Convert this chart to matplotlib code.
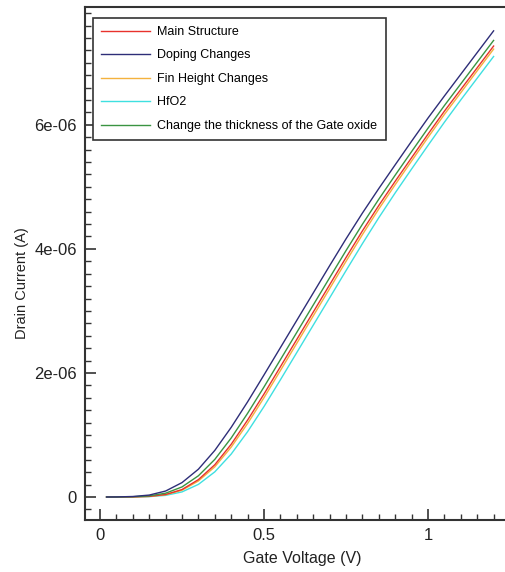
import matplotlib
matplotlib.use("Agg")
import matplotlib.pyplot as plt
from matplotlib.ticker import MultipleLocator

plt.rcParams['font.family'] = ['Liberation Sans', 'DejaVu Sans']

gate_voltage = [0.02, 0.05, 0.10, 0.15, 0.20, 0.25, 0.30, 0.35, 0.40, 0.45, 0.50,
                0.55, 0.60, 0.65, 0.70, 0.75, 0.80, 0.85, 0.90, 0.95, 1.00,
                1.05, 1.10, 1.15, 1.20]

main_structure = [0, 0, 0.002, 0.010, 0.040, 0.120, 0.280, 0.520, 0.850, 1.240, 1.660,
                  2.100, 2.540, 2.980, 3.420, 3.860, 4.290, 4.700, 5.090, 5.470, 5.850,
                  6.220, 6.570, 6.920, 7.270]
doping_changes = [0, 0.001, 0.008, 0.031, 0.096, 0.232, 0.448, 0.751, 1.123, 1.534, 1.968,
                  2.408, 2.848, 3.288, 3.728, 4.161, 4.577, 4.973, 5.356, 5.736, 6.109,
                  6.465, 6.815, 7.165, 7.515]
fin_height_changes = [0, 0, 0.0017, 0.009, 0.036, 0.109, 0.258, 0.486, 0.804, 1.185, 1.601,
                      2.038, 2.478, 2.918, 3.358, 3.798, 4.230, 4.643, 5.035, 5.417, 5.797,
                      6.168, 6.518, 6.871, 7.221]
hfo2 = [0, 0, 0.001, 0.006, 0.026, 0.082, 0.203, 0.405, 0.692, 1.053, 1.458,
        1.889, 2.329, 2.769, 3.209, 3.649, 4.084, 4.503, 4.903, 5.288, 5.668,
        6.042, 6.402, 6.752, 7.102]
gate_oxide_thickness = [0, 0, 0.004, 0.018, 0.061, 0.162, 0.342, 0.606, 0.951, 1.349, 1.774,
                        2.214, 2.654, 3.094, 3.534, 3.972, 4.397, 4.801, 5.189, 5.569, 5.946,
                        6.311, 6.661, 7.011, 7.361]

series_labels = ["Main Structure", "Doping Changes", "Fin Height Changes", "HfO2",
                 "Change the thickness of the Gate oxide"]
series_values = [main_structure, doping_changes, fin_height_changes, hfo2, gate_oxide_thickness]
series_colors = ["#e8322c", "#2e2e78", "#f4b23e", "#3fe0e0", "#3a9442"]

fig = plt.figure(figsize=(5.06, 5.72), dpi=100)
ax = fig.add_axes([0.168, 0.0909, 0.832, 0.8969])

# draw in an order that keeps the middle curves visible
order = [3, 2, 0, 4, 1]
handles = {}
for i in order:
    vals = [v * 1e-6 for v in series_values[i]]
    h, = ax.plot(gate_voltage, vals, color=series_colors[i], lw=1.0, label=series_labels[i])
    handles[i] = h

ax.set_xlim(-0.0457, 1.2378)
ax.set_ylim(-0.371e-6, 7.90e-6)

ax.xaxis.set_minor_locator(MultipleLocator(0.05))
ax.yaxis.set_minor_locator(MultipleLocator(2e-7))
ax.set_xticks([0, 0.5, 1])
ax.set_xticklabels(["0", "0.5", "1"])
ax.set_yticks([0, 2e-6, 4e-6, 6e-6])
ax.set_yticklabels(["0", "2e-06", "4e-06", "6e-06"])

ax.tick_params(which='major', direction='in', length=8, width=1.2, color='#333333',
               labelsize=12, labelcolor='#222222', pad=6)
ax.tick_params(which='minor', direction='in', length=4, width=1.0, color='#333333')

for side in ['left', 'bottom', 'top']:
    ax.spines[side].set_color('#333333')
    ax.spines[side].set_linewidth(1.5)
ax.spines['right'].set_visible(False)

ax.set_xlabel("Gate Voltage (V)", fontsize=11.5, color='#222222')
ax.set_ylabel("Drain Current (A)", fontsize=10.5, color='#222222')
ax.xaxis.set_label_coords(0.515, -0.061)
ax.yaxis.set_label_coords(-0.132, 0.462)

leg = ax.legend([handles[i] for i in range(5)], series_labels,
                loc='upper left', bbox_to_anchor=(0.019, 0.979), borderaxespad=0,
                fontsize=9, frameon=True, fancybox=False, framealpha=1,
                edgecolor='#333333', handlelength=3.9, handletextpad=0.6,
                labelspacing=0.92, borderpad=0.65)
leg.get_frame().set_linewidth(1.2)

fig.savefig("out.png", dpi=100)
